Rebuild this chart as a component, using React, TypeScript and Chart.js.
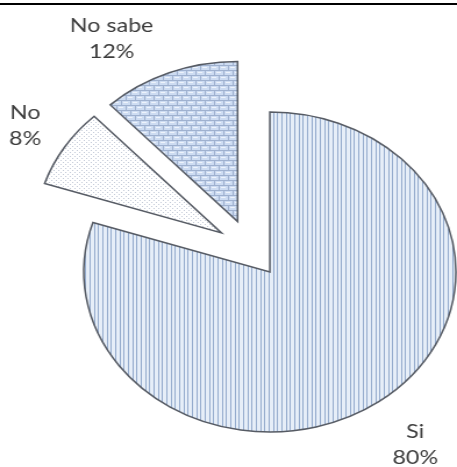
import React, { useEffect, useRef } from 'react';
import { Chart, registerables } from 'chart.js';

Chart.register(...registerables);

const categories = ['Si', 'No', 'No sabe'];
const values = [80, 8, 12];

function makePattern(kind: string): CanvasPattern | string {
  const c = document.createElement('canvas');
  const g = c.getContext('2d');
  if (!g) return '#dde8f5';
  if (kind === 'stripes') {
    c.width = 11; c.height = 4;
    g.fillStyle = '#e6eef8'; g.fillRect(0, 0, 11, 4);
    g.fillStyle = '#94abcd';
    [0, 4, 7].forEach((x) => g.fillRect(x, 0, 1, 4));
  } else if (kind === 'brick') {
    c.width = 16; c.height = 10;
    g.fillStyle = '#cddcf2'; g.fillRect(0, 0, 16, 10);
    g.fillStyle = '#9fb1cf';
    g.fillRect(0, 0, 16, 1); g.fillRect(0, 5, 16, 1);
    g.fillRect(0, 0, 1, 5); g.fillRect(8, 0, 1, 5);
    g.fillRect(4, 5, 1, 5); g.fillRect(12, 5, 1, 5);
    g.fillStyle = '#eef3fb';
    g.fillRect(2, 2, 4, 1); g.fillRect(10, 2, 4, 1);
    g.fillRect(6, 7, 4, 1); g.fillRect(14, 7, 2, 1); g.fillRect(0, 7, 2, 1);
  } else {
    c.width = 4; c.height = 4;
    g.fillStyle = '#ffffff'; g.fillRect(0, 0, 4, 4);
    g.fillStyle = '#c3cad7';
    g.fillRect(0, 0, 1, 1); g.fillRect(2, 2, 1, 1);
  }
  return g.createPattern(c, 'repeat') || '#dde8f5';
}

const pieLabels = {
  id: 'pieLabels',
  beforeDatasetsDraw(chart: any, _args: any, opts: any) {
    const meta = chart.getDatasetMeta(0);
    meta.data.forEach((arc: any) => {
      const a = (arc.startAngle + arc.endAngle) / 2;
      arc.x += Math.cos(a) * opts.explode;
      arc.y += Math.sin(a) * opts.explode;
    });
  },
  afterDatasetsDraw(chart: any, _args: any, opts: any) {
    const ctx = chart.ctx;
    const meta = chart.getDatasetMeta(0);
    const total = values.reduce((s, v) => s + v, 0);
    ctx.save();
    ctx.font = opts.font;
    ctx.fillStyle = opts.color;
    ctx.textAlign = 'center';
    ctx.textBaseline = 'middle';
    meta.data.forEach((arc: any, i: number) => {
      const mid = (arc.startAngle + arc.endAngle) / 2;
      const a = mid + (opts.nudge[i] * Math.PI) / 180;
      const r = arc.outerRadius * opts.distance[i];
      const x = arc.x + Math.cos(a) * r;
      const y = arc.y + Math.sin(a) * r;
      const pct = Math.round((values[i] / total) * 100) + '%';
      ctx.fillText(categories[i], x, y - opts.lineGap);
      ctx.fillText(pct, x, y + opts.lineGap);
      arc.x -= Math.cos(mid) * opts.explode;
      arc.y -= Math.sin(mid) * opts.explode;
    });
    ctx.restore();
  },
};

export default function App() {
  const ref = useRef<HTMLCanvasElement>(null);
  useEffect(() => {
    if (!ref.current) return;
    const chart = new Chart(ref.current, {
      type: 'pie',
      data: {
        labels: categories,
        datasets: [
          {
            data: values,
            backgroundColor: [makePattern('stripes'), makePattern('dots'), makePattern('brick')] as any,
            borderColor: '#565b64',
            borderWidth: 1.5,
            borderJoinStyle: 'miter',
          } as any,
        ],
      },
      options: {
        responsive: false,
        maintainAspectRatio: false,
        animation: false,
        radius: 160,
        layout: { padding: { left: 37, right: 0, top: 30, bottom: 0 } },
        plugins: {
          legend: { display: false },
          tooltip: { enabled: false },
          pieLabels: {
            explode: 29,
            distance: [1.33, 1.25, 1.33],
            nudge: [0, 0, -9],
            lineGap: 13,
            font: '20px Lato',
            color: '#3c3c3c',
          },
        } as any,
      } as any,
      plugins: [pieLabels],
    });
    return () => chart.destroy();
  }, []);
  return (
    <div style={{ position: 'fixed', left: 0, top: 0, width: 457, height: 467, background: '#ffffff' }}>
      <div style={{ position: 'absolute', left: 0, top: 3, width: 457, height: 2, background: '#000000' }} />
      <canvas
        ref={ref}
        width={393}
        height={467}
        style={{ width: '457px', height: '467px', display: 'block' }}
      />
    </div>
  );
}
